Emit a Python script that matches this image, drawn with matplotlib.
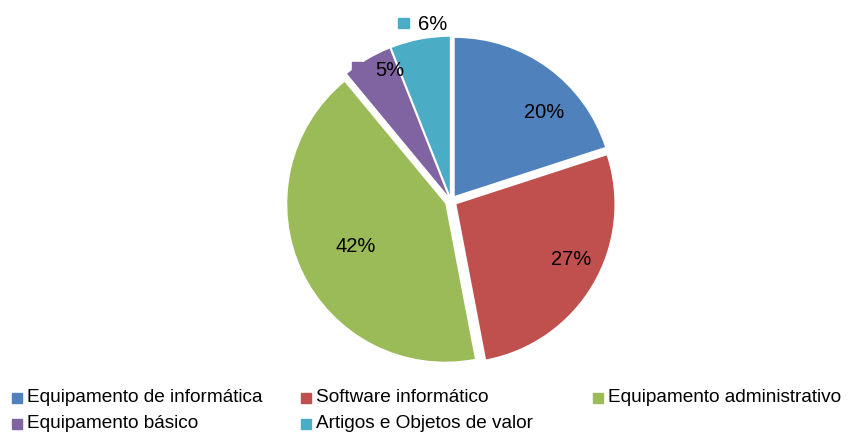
import matplotlib.pyplot as plt
from matplotlib.patches import Rectangle

# dados
categorias = ["Equipamento de informática", "Software informático",
              "Equipamento administrativo", "Equipamento básico",
              "Artigos e Objetos de valor"]
valores = [20, 27, 42, 5, 6]
cores = ["#4F81BD", "#C0504D", "#9BBB59", "#8064A2", "#4BACC6"]

# posicao dos rotulos (unidades do raio)
pos_rotulos = [(0.589, 0.557), (0.759, -0.373), (-0.601, -0.291),
               (-0.481, 0.823), (-0.209, 1.114)]
chave_rotulos = {3: (-0.595, 0.848), 4: (-0.301, 1.127)}

plt.rcParams['font.family'] = ['Liberation Sans', 'DejaVu Sans']

W, H = 849, 433
fig = plt.figure(figsize=(W / 100, H / 100), dpi=100)

R = 158.0
cx, cy = 451, 201
lim = 1.3
size = 2 * lim * R
ax = fig.add_axes([(cx - size / 2) / W, (H - cy - size / 2) / H, size / W, size / H])

wedges, _ = ax.pie(valores, colors=cores, startangle=90, counterclock=False,
                   explode=[0.04] * len(valores), radius=1.0)
ax.set_xlim(-lim, lim)
ax.set_ylim(-lim, lim)
ax.axis('off')

total = sum(valores)
for i, v in enumerate(valores):
    txt = "%d%%" % round(100 * v / total)
    x, y = pos_rotulos[i]
    if i in chave_rotulos:
        kx, ky = chave_rotulos[i]
        s = 10.5 / R
        ax.add_patch(Rectangle((kx - s / 2, ky - s / 2), s, s, color=cores[i], zorder=0.5))
        ax.text(x, y, txt, ha='left', va='center', fontsize=14.5, zorder=3)
    else:
        ax.text(x, y, txt, ha='center', va='center', fontsize=14.5, zorder=3)

# legenda manual (3 colunas, por linha)
col_x = [12, 301, 593]
row_y = [398, 424]
for i, nome in enumerate(categorias):
    c = i % 3
    r = i // 3
    x0 = col_x[c]
    y0 = row_y[r]
    fig.patches.append(Rectangle((x0 / W, (H - y0 - 5) / H), 10 / W, 10 / H,
                                 color=cores[i], transform=fig.transFigure, figure=fig))
    fig.text((x0 + 15) / W, (H - y0) / H, nome, ha='left', va='center', fontsize=13.7)

fig.savefig("out.png", dpi=100)
